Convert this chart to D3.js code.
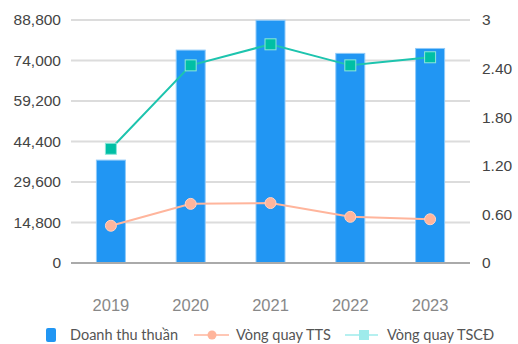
<!DOCTYPE html>
<html><head><meta charset="utf-8">
<script src="https://cdn.jsdelivr.net/npm/d3@7"></script>
<style>body{margin:0;background:#fff}svg{display:block}</style>
</head><body>
<svg id="c" width="518" height="344"></svg>
<script>
const years = ["2019","2020","2021","2022","2023"];
const revenue = [37600, 77800, 88700, 76600, 78400];
const ttsTurnover = [0.46, 0.73, 0.74, 0.57, 0.54];
const tscdTurnover = [1.41, 2.44, 2.70, 2.44, 2.54];
const leftTicks = [0, 14800, 29600, 44400, 59200, 74000, 88800];
const rightTicks = [0, 0.6, 1.2, 1.8, 2.4, 3];
const seriesNames = ["Doanh thu thuần", "Vòng quay TTS", "Vòng quay TSCĐ"];

const svg = d3.select("#c");
const m = {l:71, r:470, t:20, b:263};
const x = d3.scaleBand().domain(years).range([m.l, m.r]);
const yL = d3.scaleLinear().domain([0, 88800]).range([m.b, m.t]);
const yR = d3.scaleLinear().domain([0, 3]).range([m.b, m.t]);
const axisFont = "'Liberation Sans', Arial, sans-serif";

// gridlines
svg.append("g").selectAll("line").data(leftTicks.slice(1)).join("line")
  .attr("x1", m.l).attr("x2", m.r)
  .attr("y1", d=>yL(d)).attr("y2", d=>yL(d))
  .attr("stroke", "#dcdcdc").attr("stroke-width", 2);

// left axis
const gL = svg.append("g").attr("transform", `translate(${m.l},0)`)
  .call(d3.axisLeft(yL).tickValues(leftTicks).tickSize(0).tickPadding(10).tickFormat(d3.format(",")));
gL.select(".domain").remove();
gL.selectAll("text").attr("font-family", axisFont).attr("font-size", 15.5).attr("fill", "#444");

// right axis
const gR = svg.append("g").attr("transform", `translate(${m.r},0)`)
  .call(d3.axisRight(yR).tickValues(rightTicks).tickSize(0).tickPadding(12)
    .tickFormat(d => d === 3 ? "3" : d === 0 ? "0" : d3.format(".2f")(d)));
gR.select(".domain").remove();
gR.selectAll("text").attr("font-family", axisFont).attr("font-size", 15.5).attr("fill", "#444");

// bars
const bw = 29;
svg.append("g").selectAll("rect").data(years).join("rect")
  .attr("x", d => x(d) + x.bandwidth()/2 - bw/2)
  .attr("width", bw)
  .attr("y", (d,i) => yL(revenue[i]))
  .attr("height", (d,i) => m.b - yL(revenue[i]))
  .attr("fill", "#2196F3").attr("stroke", "#90CAF9").attr("stroke-width", 1);

// baseline
svg.append("line").attr("x1", m.l).attr("x2", m.r).attr("y1", m.b).attr("y2", m.b)
  .attr("stroke", "#aaa").attr("stroke-width", 2);

// x axis labels
const gX = svg.append("g").attr("transform", `translate(0,${m.b})`)
  .call(d3.axisBottom(x).tickSize(0).tickPadding(36));
gX.select(".domain").remove();
gX.selectAll("text").attr("font-family", axisFont).attr("font-size", 16.5).attr("fill", "#888");

const cx = d => x(d) + x.bandwidth()/2;
const line = d3.line().x((d,i) => cx(years[i])).y(d => yR(d));

// TTS line
svg.append("path").datum(ttsTurnover).attr("d", line)
  .attr("fill", "none").attr("stroke", "#FFB59C").attr("stroke-width", 2);
svg.append("g").selectAll("circle").data(ttsTurnover).join("circle")
  .attr("cx", (d,i) => cx(years[i])).attr("cy", d => yR(d)).attr("r", 5.5)
  .attr("fill", "#FFB59C").attr("stroke", "#FFD3C4").attr("stroke-width", 1);

// TSCD line
svg.append("path").datum(tscdTurnover).attr("d", line)
  .attr("fill", "none").attr("stroke", "#1DC4AE").attr("stroke-width", 2);
const sq = 11;
svg.append("g").selectAll("rect").data(tscdTurnover).join("rect")
  .attr("x", (d,i) => cx(years[i]) - sq/2).attr("y", d => yR(d) - sq/2)
  .attr("width", sq).attr("height", sq)
  .attr("fill", "#00BFA5").attr("stroke", "#8DE6DA").attr("stroke-width", 1);

// legend
const legFont = "Lato, 'Open Sans', sans-serif";
const lg = svg.append("g").attr("font-family", legFont).attr("font-size", 14.5).attr("fill", "#555");
const ly = 335;
lg.append("rect").attr("x", 46).attr("y", 328).attr("width", 10).attr("height", 14).attr("rx", 2).attr("fill", "#2196F3");
lg.append("text").attr("x", 70).attr("y", ly).attr("dy", "0.35em").text(seriesNames[0]);
lg.append("line").attr("x1", 194).attr("x2", 229).attr("y1", ly).attr("y2", ly).attr("stroke", "#FFB59C").attr("stroke-width", 1.5);
lg.append("circle").attr("cx", 212).attr("cy", ly).attr("r", 4.5).attr("fill", "#FFB59C");
lg.append("text").attr("x", 236).attr("y", ly).attr("dy", "0.35em").text(seriesNames[1]);
lg.append("line").attr("x1", 345).attr("x2", 378).attr("y1", ly).attr("y2", ly).attr("stroke", "#9EEBEB").attr("stroke-width", 1.5);
lg.append("rect").attr("x", 359).attr("y", ly-5).attr("width", 10).attr("height", 10).attr("fill", "#9EEBEB");
lg.append("text").attr("x", 387).attr("y", ly).attr("dy", "0.35em").text(seriesNames[2]);
</script>
</body></html>
